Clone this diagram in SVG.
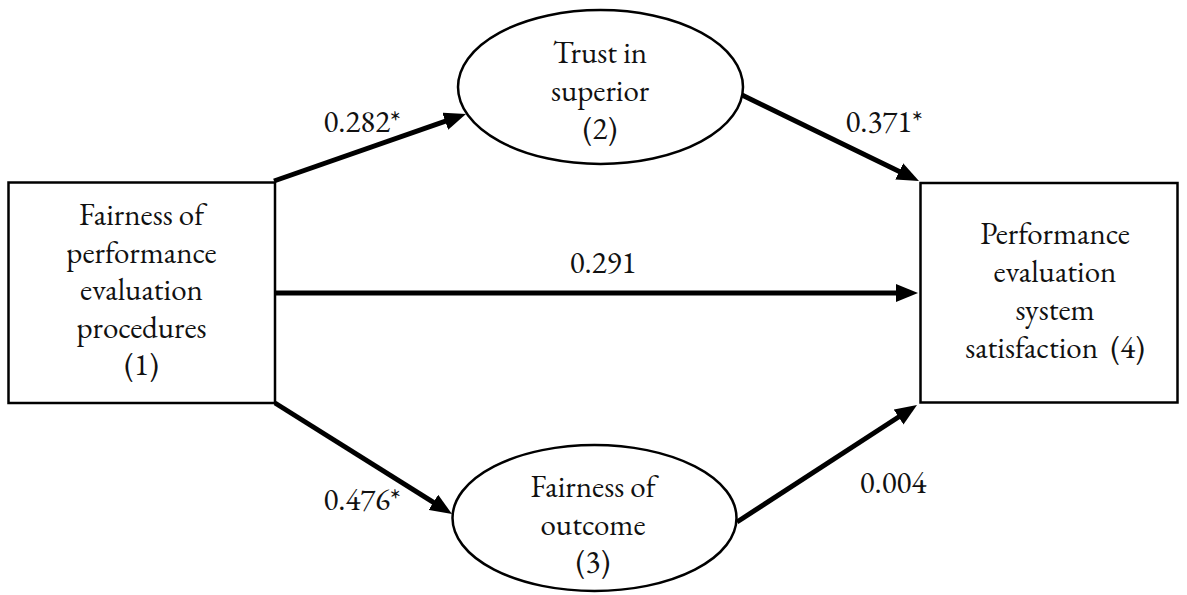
<svg xmlns="http://www.w3.org/2000/svg" width="1187" height="595" viewBox="0 0 1187 595">
<style>
.box{fill:#fff;stroke:#000;stroke-width:2.5}
.lbl{font-family:"EB Garamond","Liberation Serif",serif;font-size:31px;fill:#111;text-anchor:middle}
.edge{stroke:#000;stroke-width:5;fill:none}
</style>
<defs>
<marker id="ah" viewBox="0 0 22 18" refX="11" refY="9" markerWidth="22" markerHeight="18" markerUnits="userSpaceOnUse" orient="auto">
<path d="M0,0 L22,9 L0,18 z" fill="#000"/>
</marker>
</defs>
<rect width="1187" height="595" fill="#fff"/>
<g id="connectors">
<line class="edge" x1="274" y1="181" x2="455.6" y2="117.6" marker-end="url(#ah)"/>
<line class="edge" x1="742" y1="95" x2="909.1" y2="176.2" marker-end="url(#ah)"/>
<line class="edge" x1="275" y1="293" x2="907" y2="293" marker-end="url(#ah)"/>
<line class="edge" x1="275" y1="403" x2="442.7" y2="508.2" marker-end="url(#ah)"/>
<line class="edge" x1="737" y1="522" x2="907.8" y2="411" marker-end="url(#ah)"/>
<text class="lbl" x="362" y="132">0.282*</text>
<text class="lbl" x="884" y="132">0.371*</text>
<text class="lbl" x="603" y="273">0.291</text>
<text class="lbl" x="362" y="510">0.476*</text>
<text class="lbl" x="893" y="493">0.004</text>
</g>
<g id="node1">
<rect class="box" x="8.5" y="182.5" width="266.5" height="220.5"/>
<text class="lbl" x="141.5" y="225">Fairness of</text>
<text class="lbl" x="141.5" y="262.5">performance</text>
<text class="lbl" x="141.5" y="300">evaluation</text>
<text class="lbl" x="141.5" y="337.5">procedures</text>
<text class="lbl" x="141.5" y="375">(1)</text>
</g>
<g id="node2">
<ellipse class="box" cx="600.5" cy="87" rx="142.5" ry="77"/>
<text class="lbl" x="600" y="63">Trust in</text>
<text class="lbl" x="600" y="101">superior</text>
<text class="lbl" x="600" y="139">(2)</text>
</g>
<g id="node3">
<ellipse class="box" cx="594.5" cy="518" rx="142" ry="73"/>
<text class="lbl" x="593" y="497">Fairness of</text>
<text class="lbl" x="593" y="535">outcome</text>
<text class="lbl" x="593" y="572">(3)</text>
</g>
<g id="node4">
<rect class="box" x="920.5" y="183" width="257" height="219.5"/>
<text class="lbl" x="1055" y="244">Performance</text>
<text class="lbl" x="1055" y="282">evaluation</text>
<text class="lbl" x="1055" y="320">system</text>
<text class="lbl" x="1055" y="358" xml:space="preserve">satisfaction  (4)</text>
</g>
</svg>
